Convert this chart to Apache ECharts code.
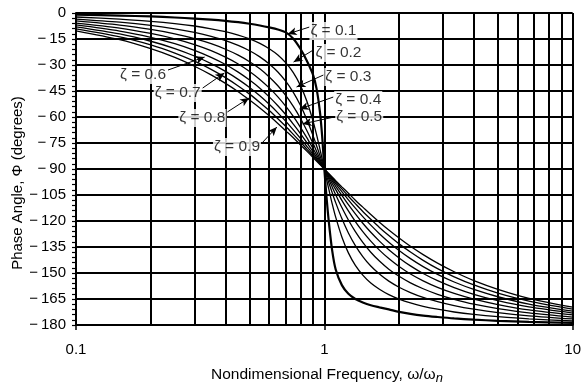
<!DOCTYPE html>
<html>
<head>
<meta charset="utf-8">
<script src="https://cdn.jsdelivr.net/npm/echarts@6/dist/echarts.min.js"></script>
<style>
html,body{margin:0;padding:0;background:#fff;}
#chart{width:584px;height:389px;}
</style>
</head>
<body>
<div id="chart"></div>
<script>
// ---- data ----
const freq = [0.1,0.15,0.2,0.25,0.3,0.35,0.4,0.45,0.5,0.55,0.6,0.65,0.7,0.75,0.8,0.85,0.9,0.93,0.96,0.98,
  1,1.0204,1.0417,1.0753,1.1111,1.1765,1.25,1.3333,1.4286,1.5385,1.6667,1.8182,2,2.2222,2.5,2.8571,3.3333,4,5,6.6667,10];
const zetaNames = ['0.1','0.2','0.3','0.4','0.5','0.6','0.7','0.8','0.9'];
const phase01 = [-1.0,-1.5,-2.0,-2.6,-3.2,-3.8,-4.5,-5.3,-6.2,-7.2,-8.3,-9.5,-11.2,-14.8,-20.5,-27.5,-35.5,-43.5,-57.0,-71.0,
  -90,-106,-120,-137,-148,-157,-162,-165,-167,-168.6,-169.8,-171.0,-172.4,-173.6,-174.6,-175.4,-176.2,-176.9,-177.6,-178.2,-178.8];
const phase02 = [-2.3,-3.5,-4.8,-6.1,-7.5,-9.1,-10.8,-12.7,-14.9,-17.5,-20.6,-24.2,-28.8,-34.4,-41.6,-50.8,-62.2,-70.0,-78.5,-84.2,
  -90,-95.8,-101.5,-110.0,-117.8,-129.2,-138.4,-145.6,-151.2,-155.8,-159.4,-162.5,-165.1,-167.3,-169.2,-170.9,-172.5,-173.9,-175.2,-176.5,-177.7];
const phase03 = [-3.5,-5.3,-7.1,-9.1,-11.2,-13.5,-15.9,-18.7,-21.8,-25.3,-29.4,-34.0,-39.5,-45.8,-53.1,-61.4,-70.6,-76.4,-82.2,-86.1,
  -90,-93.9,-97.8,-103.6,-109.4,-118.6,-126.9,-134.2,-140.5,-146.0,-150.6,-154.7,-158.2,-161.3,-164.1,-166.5,-168.8,-170.9,-172.9,-174.7,-176.5];
const phase04 = [-4.6,-7.0,-9.5,-12.0,-14.8,-17.7,-20.9,-24.3,-28.1,-32.2,-36.9,-42.0,-47.7,-53.9,-60.6,-67.8,-75.2,-79.7,-84.2,-87.1,
  -90,-92.9,-95.8,-100.3,-104.8,-112.2,-119.4,-126.1,-132.3,-138.0,-143.1,-147.8,-151.9,-155.7,-159.1,-162.3,-165.2,-168.0,-170.5,-173.0,-175.4];
const phase05 = [-5.8,-8.7,-11.8,-14.9,-18.2,-21.7,-25.5,-29.4,-33.7,-38.3,-43.2,-48.4,-53.9,-59.7,-65.8,-71.9,-78.1,-81.7,-85.3,-87.7,
  -90,-92.3,-94.7,-98.3,-101.9,-108.1,-114.2,-120.3,-126.1,-131.6,-136.8,-141.7,-146.3,-150.6,-154.5,-158.3,-161.8,-165.1,-168.2,-171.3,-174.2];
const phase06 = [-6.9,-10.4,-14.0,-17.7,-21.6,-25.6,-29.7,-34.1,-38.7,-43.4,-48.4,-53.5,-58.7,-64.1,-69.4,-74.8,-80.0,-83.1,-86.1,-88.1,
  -90,-91.9,-93.9,-96.9,-100.0,-105.2,-110.6,-115.9,-121.3,-126.5,-131.6,-136.6,-141.3,-145.9,-150.3,-154.4,-158.4,-162.3,-166.0,-169.6,-173.1];
const phase07 = [-8.0,-12.1,-16.3,-20.5,-24.8,-29.2,-33.7,-38.3,-43.0,-47.8,-52.7,-57.6,-62.5,-67.4,-72.2,-76.9,-81.4,-84.1,-86.7,-88.3,
  -90,-91.7,-93.3,-95.9,-98.6,-103.1,-107.8,-112.6,-117.5,-122.4,-127.3,-132.2,-137.0,-141.7,-146.3,-150.8,-155.2,-159.5,-163.7,-167.9,-172.0];
const phase08 = [-9.2,-13.8,-18.4,-23.1,-27.8,-32.5,-37.3,-42.1,-46.8,-51.6,-56.3,-61.0,-65.5,-70.0,-74.3,-78.5,-82.5,-84.8,-87.1,-88.6,
  -90,-91.4,-92.9,-95.2,-97.5,-101.5,-105.7,-110.0,-114.5,-119.0,-123.7,-128.4,-133.2,-137.9,-142.7,-147.5,-152.2,-156.9,-161.6,-166.2,-170.8];
const phase09 = [-10.3,-15.4,-20.6,-25.6,-30.7,-35.7,-40.6,-45.4,-50.2,-54.8,-59.3,-63.7,-68.0,-72.0,-76.0,-79.7,-83.3,-85.4,-87.4,-88.7,
  -90,-91.3,-92.6,-94.6,-96.7,-100.3,-104.0,-108.0,-112.0,-116.3,-120.7,-125.2,-129.8,-134.6,-139.4,-144.3,-149.3,-154.4,-159.4,-164.6,-169.7];
const phaseSeries = [phase01,phase02,phase03,phase04,phase05,phase06,phase07,phase08,phase09];
const minorFreq = [0.2,0.3,0.4,0.5,0.6,0.7,0.8,0.9,2,3,4,5,6,7,8,9];
const xTickLabels = {0.1:'0.1',1:'1',10:'10'};

// annotations (data coordinates)
const annText = ['ζ = 0.1','ζ = 0.2','ζ = 0.3','ζ = 0.4','ζ = 0.5','ζ = 0.6','ζ = 0.7','ζ = 0.8','ζ = 0.9'];
const annAnchor = [[0.871,-10.4],[0.912,-23.1],[1.0,-36.9],[1.096,-50.2],[1.106,-60.0],[0.2326,-35.8],[0.3207,-46.2],[0.4033,-60.6],[0.5559,-77.3]];
const annSide = ['right','right','right','right','right','left','left','left','left'];
const annFrom = [[0.871,-8.1],[0.904,-21.3],[0.991,-35.8],[1.086,-48.5],[1.096,-60.0],[0.2347,-32.9],[0.3236,-43.3],[0.407,-57.1],[0.561,-75.0]];
const annTip = [[0.712,-12.1],[0.752,-28.3],[0.773,-42.7],[0.795,-55.4],[0.817,-64.0],[0.3296,-25.4],[0.396,-34.6],[0.498,-49.0],[0.644,-65.8]];

// ---- chart ----
const FONT = '"Liberation Sans", Arial, Helvetica, sans-serif';
const chart = echarts.init(document.getElementById('chart'), null, {renderer:'canvas'});

const series = phaseSeries.map((arr, i) => ({
  name: 'ζ = ' + zetaNames[i],
  type: 'line',
  data: freq.map((f, j) => [f, arr[j]]),
  showSymbol: false,
  smooth: 0.3,
  lineStyle: {color: '#000', width: i === 0 ? 2.2 : 1.3},
  z: 5,
  silent: true
}));

series.push({
  type: 'scatter',
  data: [],
  silent: true,
  z: 3,
  markLine: {
    silent: true,
    symbol: ['none','none'],
    label: {show: false},
    lineStyle: {color: '#000', width: 2, type: 'solid'},
    data: minorFreq.map(v => ({xAxis: v}))
  }
});

series.push({
  type: 'scatter',
  silent: true,
  z: 20,
  symbolSize: 0,
  data: annText.map((t, i) => ({
    value: annAnchor[i],
    name: t,
    label: {
      show: true,
      position: annSide[i],
      distance: 0,
      formatter: t,
      fontFamily: FONT,
      fontSize: 15.5,
      color: '#000',
      backgroundColor: '#fff',
      padding: [1, 1, 1, 1]
    }
  })),
  markLine: {
    silent: true,
    symbol: ['none','arrow'],
    symbolSize: [6, 9],
    label: {show: false},
    lineStyle: {color: '#000', width: 1, type: 'solid'},
    z: 19,
    data: annFrom.map((p, i) => [{coord: p}, {coord: annTip[i]}])
  }
});

chart.setOption({
  animation: false,
  backgroundColor: '#fff',
  grid: {left: 76, right: 6, top: 13, bottom: 64},
  xAxis: {
    type: 'log', logBase: 10, min: 0.1, max: 10,
    axisLine: {show: true, onZero: false, lineStyle: {color: '#000', width: 2}},
    axisTick: {show: true, length: 5, lineStyle: {color: '#000', width: 1.5}},
    axisLabel: {
      margin: 17, fontSize: 15, fontFamily: FONT, color: '#000',
      formatter: v => xTickLabels[v] !== undefined ? xTickLabels[v] : (Math.abs(v - 0.1) < 1e-9 ? '0.1' : String(v))
    },
    splitLine: {show: true, lineStyle: {color: '#000', width: 2}},
    minorTick: {show: false},
    minorSplitLine: {show: false}
  },
  yAxis: {
    type: 'value', min: -180, max: 0, interval: 15,
    axisLine: {show: true, lineStyle: {color: '#000', width: 2}},
    axisTick: {show: true, length: 4, lineStyle: {color: '#000', width: 1.2}},
    minorTick: {show: true, splitNumber: 5, length: 4, lineStyle: {color: '#000', width: 1.2}},
    axisLabel: {
      margin: 10, fontSize: 15, fontFamily: FONT, color: '#000',
      formatter: v => v === 0 ? '0' : '\u2212\u2009' + Math.abs(v)
    },
    splitLine: {show: true, lineStyle: {color: '#000', width: 2}}
  },
  graphic: [
    {
      type: 'text', x: 18, y: 183, rotation: Math.PI / 2,
      style: {
        text: 'Phase Angle, Φ (degrees)', fill: '#000',
        font: '15px ' + FONT, align: 'center', verticalAlign: 'middle'
      }
    },
    {
      type: 'text', x: 327, y: 375,
      style: {
        text: 'Nondimensional Frequency, ω/ω{sub|n}', fill: '#000',
        font: '15.5px ' + FONT, align: 'center', verticalAlign: 'middle',
        rich: {sub: {fontSize: 13, fontStyle: 'italic', fontFamily: FONT, verticalAlign: 'bottom', padding: [7, 0, 0, 0]}}
      }
    }
  ],
  series: series
});
</script>
</body>
</html>
